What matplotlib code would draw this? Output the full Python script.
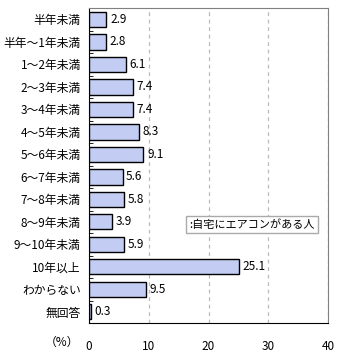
import numpy as np
import matplotlib.pyplot as plt

plt.rcParams['font.family'] = ['Noto Sans CJK JP', 'DejaVu Sans']

# カテゴリと値
categories = ["半年未満", "半年～1年未満", "1～2年未満", "2～3年未満", "3～4年未満",
              "4～5年未満", "5～6年未満", "6～7年未満", "7～8年未満", "8～9年未満",
              "9～10年未満", "10年以上", "わからない", "無回答"]
values = [2.9, 2.8, 6.1, 7.4, 7.4, 8.3, 9.1, 5.6, 5.8, 3.9, 5.9, 25.1, 9.5, 0.3]
xticks = [0, 10, 20, 30, 40]
legend_label = ":自宅にエアコンがある人"

fig = plt.figure(figsize=(3.4, 3.55), dpi=100)
ax = fig.add_axes([0.262, 0.090, 0.703, 0.887])

y = np.arange(len(categories))
ax.barh(y, values, height=0.68, color='#c3cdf3', edgecolor='black', linewidth=1.0, zorder=3)

# 値ラベル
for i, v in enumerate(values):
    ax.text(v + 0.6, i, f"{v:.1f}", va='center', ha='left', fontsize=8.5, zorder=4)

ax.set_ylim(len(categories) - 0.5, -0.5)
ax.set_xlim(0, 40)
ax.set_yticks(y)
ax.set_yticklabels(categories, fontsize=8.5)
ax.set_yticks(np.arange(-0.5, len(categories), 1), minor=True)
ax.tick_params(axis='y', which='major', length=0, pad=6)
ax.tick_params(axis='y', which='minor', direction='in', length=3, color='black')
ax.set_xticks(xticks)
ax.set_xticklabels([str(t) for t in xticks], fontsize=8.5)
ax.tick_params(axis='x', length=0, pad=12)

ax.xaxis.grid(True, linestyle=(0, (3, 3)), color='#bbbbbb', linewidth=0.9, zorder=0)

for s in ['top', 'right']:
    ax.spines[s].set_color('#808080')
for s in ['left', 'bottom']:
    ax.spines[s].set_color('black')

# 単位
ax.text(-0.113, -0.062, "（%）", transform=ax.transAxes, ha='center', va='center', fontsize=8.5)

# 凡例
ax.text(0.42, 0.313, legend_label, transform=ax.transAxes, ha='left', va='center', fontsize=8,
        bbox=dict(boxstyle='square,pad=0.3', facecolor='white', edgecolor='#aaaaaa'), zorder=5)

fig.savefig('out.png', dpi=100)
